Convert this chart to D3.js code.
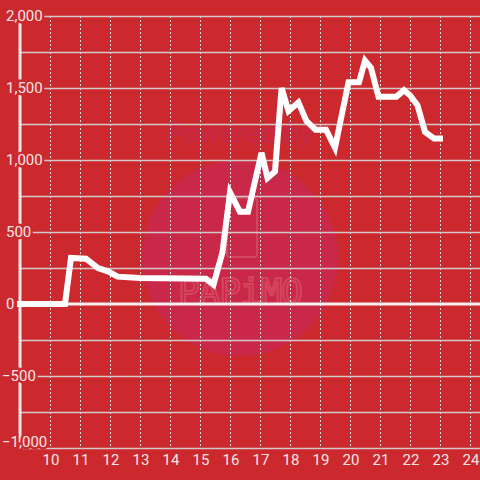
<!DOCTYPE html>
<html>
<head>
<meta charset="utf-8">
<script src="https://cdn.jsdelivr.net/npm/d3@7"></script>
<style>
  body { margin: 0; background: #cc292e; }
  svg { display: block; font-family: Roboto, "Open Sans", sans-serif; }
</style>
</head>
<body>
<div id="chart"></div>
<script>
// hour of day and value
var hours  = [9, 10.5, 10.7, 11.2, 11.6, 11.95, 12.25, 13.0, 15.2, 15.45, 15.75, 16.0, 16.33, 16.6,
              17.05, 17.25, 17.5, 17.72, 17.95, 18.28, 18.55, 18.85, 19.2, 19.5, 19.95, 20.3,
              20.5, 20.7, 20.95, 21.55, 21.8, 22.0, 22.25, 22.5, 22.8, 23.0];
var values = [0, 0, 320, 315, 250, 225, 190, 180, 175, 135, 360, 775, 640, 640,
              1050, 875, 920, 1500, 1340, 1400, 1270, 1210, 1210, 1085, 1540, 1540,
              1690, 1640, 1440, 1440, 1485, 1450, 1380, 1195, 1150, 1150];
var xTicks = [10, 11, 12, 13, 14, 15, 16, 17, 18, 19, 20, 21, 22, 23, 24];
var yTicks = [-1000, -500, 0, 500, 1000, 1500, 2000];
var yGrid  = [-1000, -750, -500, -250, 250, 500, 750, 1000, 1250, 1500, 1750, 2000];

var width = 480, height = 480;
var bg = "#cc292e";

var svg = d3.select("#chart").append("svg")
    .attr("width", width)
    .attr("height", height);

svg.append("rect").attr("width", width).attr("height", height).attr("fill", bg);

var x = d3.scaleLinear().domain([9, 24]).range([20, 470]);
var y = d3.scaleLinear().domain([-1000, 2000]).range([448, 16]);

// watermark
var wm = svg.append("g");
wm.append("circle").attr("cx", 240).attr("cy", 258).attr("r", 98).attr("fill", "#c92848");
wm.append("text")
  .attr("x", 240).attr("y", 143)
  .attr("text-anchor", "middle")
  .style("font-size", "29px").style("font-weight", "bold").style("font-style", "italic")
  .attr("fill", "#c72844")
  .text("Powered by");
wm.append("rect")
  .attr("x", 227).attr("y", 198).attr("width", 30).attr("height", 59).attr("rx", 3)
  .attr("fill", "none").attr("stroke", "#d4465e").attr("stroke-width", 2);
wm.append("text")
  .attr("x", 240).attr("y", 304)
  .attr("text-anchor", "middle")
  .style("font-size", "36px").style("font-family", "'DejaVu Sans Mono', monospace")
  .style("letter-spacing", "-1px")
  .attr("fill", "none").attr("stroke", "#d4465e").attr("stroke-width", 2)
  .text("PAPiMO");

// vertical dashed grid
svg.append("g").selectAll("line")
  .data(xTicks).join("line")
    .attr("x1", d => x(d) + 0.5).attr("x2", d => x(d) + 0.5)
    .attr("y1", y(2000)).attr("y2", y(-1000))
    .attr("stroke", "#e6dede").attr("stroke-width", 1)
    .attr("stroke-dasharray", "2,2");

// horizontal grid
svg.append("g").selectAll("line")
  .data(yGrid).join("line")
    .attr("x1", x(9)).attr("x2", width)
    .attr("y1", d => Math.round(y(d)) + 0.5).attr("y2", d => Math.round(y(d)) + 0.5)
    .attr("stroke", "#d2c8c8").attr("stroke-width", 1.5);

// zero line
svg.append("line")
  .attr("x1", x(9)).attr("x2", width)
  .attr("y1", y(0)).attr("y2", y(0))
  .attr("stroke", "#f5f0f0").attr("stroke-width", 3);

// y axis line
svg.append("line")
  .attr("x1", x(9)).attr("x2", x(9))
  .attr("y1", y(2000)).attr("y2", y(-1000))
  .attr("stroke", "#f0ecec").attr("stroke-width", 3);

// data line
var line = d3.line()
  .x((d, i) => x(hours[i]))
  .y(d => y(d));

svg.append("path")
  .attr("d", line(values))
  .attr("fill", "none")
  .attr("stroke", "#ffffff")
  .attr("stroke-width", 6)
  .attr("stroke-linecap", "square")
  .attr("stroke-linejoin", "miter");

// y labels, with a background halo cutting the grid and axis
var fmt = d3.format(",");
svg.append("g").selectAll("text")
  .data(yTicks).join("text")
    .attr("x", d => d < 0 ? 2 : 6)
    .attr("y", d => y(d))
    .attr("dy", d => d === -1000 ? "-0.1em" : "0.36em")
    .style("font-size", "15px")
    .attr("fill", "#f2e6e6")
    .attr("stroke", bg).attr("stroke-width", 5)
    .attr("paint-order", "stroke")
    .text(d => fmt(d));

// x labels
svg.append("g").selectAll("text")
  .data(xTicks).join("text")
    .attr("x", d => x(d) + 1)
    .attr("y", 465)
    .attr("text-anchor", "middle")
    .style("font-size", "15px")
    .attr("fill", "#f2e6e6")
    .text(d => d);
</script>
</body>
</html>
